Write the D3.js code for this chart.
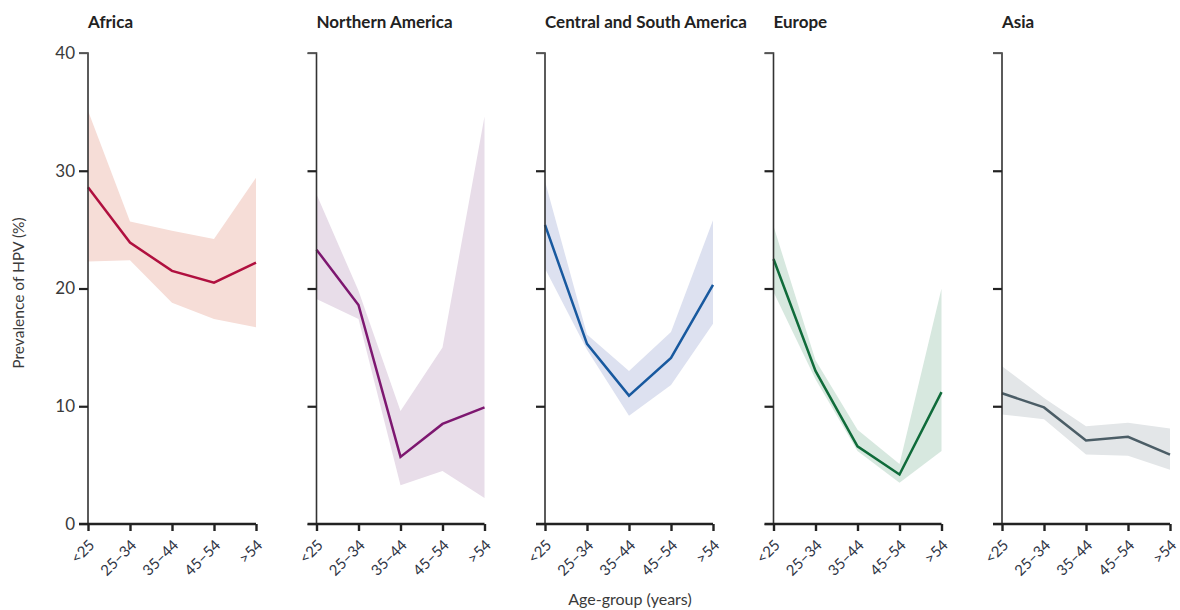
<!DOCTYPE html>
<html>
<head>
<meta charset="utf-8">
<script src="https://cdn.jsdelivr.net/npm/d3@7"></script>
<style>
  body { margin: 0; background: #fff; }
  text { font-family: Lato, "Open Sans", sans-serif; }
</style>
</head>
<body>
<script>
// age groups shared by every panel
const ages = ["<25", "25–34", "35–44", "45–54", ">54"];
const regions = ["Africa", "Northern America", "Central and South America", "Europe", "Asia"];
const yTicks = [0, 10, 20, 30, 40];

// prevalence (%) per region, with lower and upper bounds of the band
const africa      = [28.6, 23.9, 21.5, 20.5, 22.2];
const africaLo    = [22.3, 22.4, 18.8, 17.4, 16.7];
const africaHi    = [35.1, 25.7, 24.9, 24.2, 29.4];
const northAm     = [23.3, 18.6, 5.7, 8.5, 9.9];
const northAmLo   = [19.1, 17.4, 3.3, 4.5, 2.2];
const northAmHi   = [28.0, 19.8, 9.6, 15.0, 34.6];
const southAm     = [25.4, 15.3, 10.9, 14.1, 20.3];
const southAmLo   = [21.7, 14.8, 9.2, 11.8, 17.0];
const southAmHi   = [29.1, 16.1, 13.0, 16.3, 25.8];
const europe      = [22.5, 13.0, 6.6, 4.2, 11.2];
const europeLo    = [19.7, 12.3, 6.2, 3.5, 6.2];
const europeHi    = [25.3, 13.9, 8.0, 5.1, 20.0];
const asia        = [11.1, 9.9, 7.1, 7.4, 5.9];
const asiaLo      = [9.3, 8.9, 5.9, 5.8, 4.6];
const asiaHi      = [13.4, 10.7, 8.3, 8.6, 8.1];

const lineColors = ["#b0103f", "#7d1770", "#18599f", "#0f6b3a", "#4b5d66"];
const bandColors = ["#f6ddd7", "#e8dde9", "#dde1f0", "#d7e8df", "#e3e6e8"];

const series = [
  [africa, africaLo, africaHi],
  [northAm, northAmLo, northAmHi],
  [southAm, southAmLo, southAmHi],
  [europe, europeLo, europeHi],
  [asia, asiaLo, asiaHi]
];

const width = 1180, height = 610;
const panelW = 168, panelStep = 228.5, left0 = 88;
const plotTop = 53, plotBottom = 524;

const svg = d3.select("body").append("svg")
    .attr("width", width)
    .attr("height", height);

const y = d3.scaleLinear().domain([0, 40]).range([plotBottom, plotTop]);
const x = d3.scalePoint().domain(ages).range([0, panelW]);

regions.forEach(function(name, i) {
  const [mid, lo, hi] = series[i];
  const g = svg.append("g")
      .attr("transform", "translate(" + (left0 + i * panelStep) + ",0)");

  // uncertainty band
  const area = d3.area()
      .x(function(d, j) { return x(ages[j]); })
      .y0(function(d, j) { return y(lo[j]); })
      .y1(function(d, j) { return y(hi[j]); });
  g.append("path")
      .datum(mid)
      .attr("d", area)
      .attr("fill", bandColors[i]);

  // estimate line
  const line = d3.line()
      .x(function(d, j) { return x(ages[j]); })
      .y(function(d) { return y(d); });
  g.append("path")
      .datum(mid)
      .attr("d", line)
      .attr("fill", "none")
      .attr("stroke", lineColors[i])
      .attr("stroke-width", 2.5)
      .attr("stroke-linejoin", "miter");

  // y axis
  const yAxis = g.append("g")
      .call(d3.axisLeft(y).tickValues(yTicks).tickSize(9).tickFormat(i === 0 ? d3.format("d") : ""));
  yAxis.select(".domain").attr("stroke", "#333").attr("stroke-width", 1.6)
      .attr("d", "M-9," + y(40) + "H0V" + y(0));
  yAxis.selectAll(".tick line").attr("stroke", "#222").attr("stroke-width", 2.2);
  yAxis.selectAll(".tick").filter(function(d) { return d === 40 || d === 0; })
      .select("line").attr("stroke-width", 1.3).attr("stroke", "#555");
  yAxis.selectAll(".tick text")
      .attr("x", -13)
      .attr("fill", "#3a3a3a")
      .style("font-size", "17px");

  // x axis
  const xAxis = g.append("g")
      .attr("transform", "translate(0," + plotBottom + ")")
      .call(d3.axisBottom(x).tickSize(7).tickSizeOuter(0));
  xAxis.select(".domain").attr("stroke", "#222").attr("stroke-width", 2.4)
      .attr("d", "M-9,0H" + panelW);
  xAxis.selectAll(".tick line").attr("stroke", "#222").attr("stroke-width", 2.4);
  xAxis.selectAll(".tick text")
      .attr("transform", "translate(7,22) rotate(-45)")
      .attr("dy", 0)
      .attr("y", 0)
      .attr("x", 0)
      .attr("text-anchor", "end")
      .attr("fill", "#2f3545")
      .style("font-size", "15px");

  // panel title
  g.append("text")
      .attr("x", 0)
      .attr("y", 28)
      .attr("font-weight", "bold")
      .attr("fill", "#222")
      .style("font-size", "17px")
      .text(name);
});

svg.append("text")
    .attr("x", 630)
    .attr("y", 605)
    .attr("text-anchor", "middle")
    .attr("fill", "#3a3a3a")
    .style("font-size", "16px")
    .text("Age-group (years)");

svg.append("text")
    .attr("transform", "translate(24,293) rotate(-90)")
    .attr("text-anchor", "middle")
    .attr("fill", "#3a3a3a")
    .style("font-size", "15.5px")
    .text("Prevalence of HPV (%)");
</script>
</body>
</html>
